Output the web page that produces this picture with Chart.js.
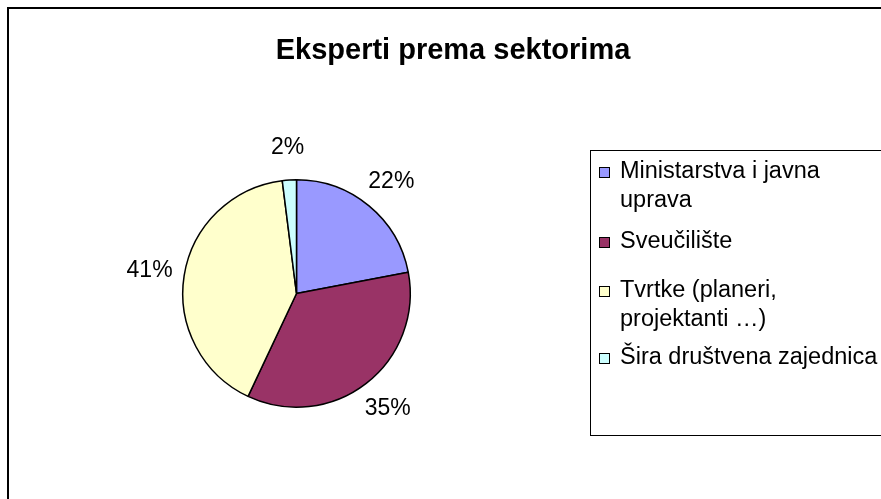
<!DOCTYPE html>
<html>
<head>
<meta charset="utf-8">
<title>Eksperti prema sektorima</title>
<script src="https://cdn.jsdelivr.net/npm/chart.js@4.4.0/dist/chart.umd.min.js"></script>
<style>
    html, body { margin: 0; padding: 0; background: #fff; }
    canvas { display: block; }
</style>
</head>
<body>
<canvas id="pieChart" width="881" height="499"></canvas>
<script>
// Podaci za graf
const naslov = 'Eksperti prema sektorima';
const sektori = [['Ministarstva i javna', 'uprava'], 'Sveučilište', ['Tvrtke (planeri,', 'projektanti …)'], 'Šira društvena zajednica'];
const postoci = [22, 35, 41, 2];
const boje = ['#9999ff', '#993366', '#ffffcc', '#ccffff'];

const FONT = '"Liberation Sans", Arial, sans-serif';

// Okvir, naslov, legenda i postoci uz kriške
const dodaci = {
    id: 'dodaci',
    afterDraw(chart) {
        const ctx = chart.ctx;
        ctx.save();

        // vanjski okvir grafa
        ctx.strokeStyle = '#000';
        ctx.lineWidth = 2;
        ctx.beginPath();
        ctx.moveTo(8, 499);
        ctx.lineTo(8, 8);
        ctx.lineTo(881, 8);
        ctx.stroke();

        // naslov
        ctx.fillStyle = '#000';
        ctx.font = 'bold 29px ' + FONT;
        ctx.textAlign = 'center';
        ctx.textBaseline = 'middle';
        ctx.fillText(naslov, 453, 51);

        // legenda
        ctx.lineWidth = 1;
        ctx.strokeRect(590.5, 150.5, 400, 285);
        const redovi = [172, 242, 291, 358];
        ctx.font = '23.5px ' + FONT;
        ctx.textAlign = 'left';
        sektori.forEach((tekst, i) => {
            const y = redovi[i];
            ctx.fillStyle = boje[i];
            ctx.fillRect(599, y - 5, 10, 10);
            ctx.strokeStyle = '#000';
            ctx.strokeRect(599.5, y - 4.5, 10, 10);
            ctx.fillStyle = '#000';
            const linije = Array.isArray(tekst) ? tekst : [tekst];
            linije.forEach((l, j) => ctx.fillText(l, 620, y + j * 29));
        });

        // postoci izvan kriški
        const meta = chart.getDatasetMeta(0);
        const ukupno = postoci.reduce((a, b) => a + b, 0);
        ctx.font = '23px ' + FONT;
        ctx.textAlign = 'center';
        meta.data.forEach((arc, i) => {
            const kut = (arc.startAngle + arc.endAngle) / 2;
            const tekst = Math.round(postoci[i] / ukupno * 100) + '%';
            const pola = ctx.measureText(tekst).width / 2;
            const x = arc.x + Math.cos(kut) * (arc.outerRadius + 12 + pola);
            const y = arc.y + Math.sin(kut) * (arc.outerRadius + 18 + 14);
            ctx.fillText(tekst, x, y);
        });

        ctx.restore();
    }
};

new Chart(document.getElementById('pieChart'), {
    type: 'pie',
    data: {
        labels: sektori,
        datasets: [{
            data: postoci,
            backgroundColor: boje,
            borderColor: '#000',
            borderWidth: 1.5
        }]
    },
    options: {
        responsive: false,
        animation: false,
        layout: {
            padding: { left: 182, right: 470, top: 179, bottom: 91 }
        },
        plugins: {
            legend: { display: false },
            title: { display: false },
            tooltip: { enabled: false }
        }
    },
    plugins: [dodaci]
});
</script>
</body>
</html>
